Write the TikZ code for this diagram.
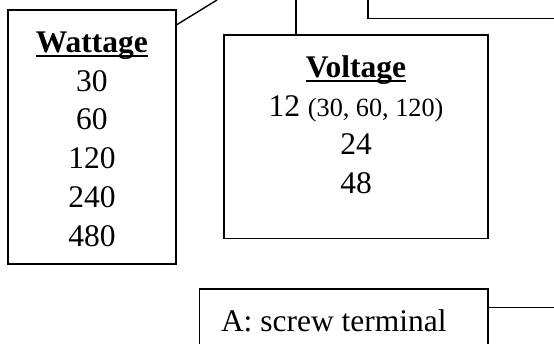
\documentclass[tikz,border=0pt]{standalone}
\usepackage{fontspec}
\setmainfont{Liberation Serif}
\usepackage{tikz}
\usetikzlibrary{positioning,calc}

\newsavebox{\headbox}
\newcommand{\ulhead}[1]{\sbox{\headbox}{\bfseries #1}\rlap{\rule[-4.5pt]{\wd\headbox}{2pt}}\usebox{\headbox}}
\newcommand{\sidenote}[1]{{\fontsize{26.25}{30}\selectfont #1}}

\begin{document}
\begin{tikzpicture}[
    x=1pt, y=-1pt,
    panel/.style={draw=black, line width=1.8pt, fill=white, inner sep=0pt},
    entry/.style={anchor=base, inner sep=0pt, font=\fontsize{31.5}{38.8}\selectfont},
    wire/.style={draw=black, line width=1.4pt}
]
\useasboundingbox (0,0) rectangle (554,343);

% Boxes
\node[panel, minimum width=168pt, minimum height=254pt] (watt) at (91.9,136.6) {};
\node[panel, minimum width=264.6pt, minimum height=203.5pt] (volt) at (356,136.8) {};
\node[panel, minimum width=288.7pt, minimum height=100pt] (screw) at (343.9,339) {};
\node[panel, minimum width=252pt, minimum height=80pt] (lamp) at (494,-21.5) {};

% Wattage column
\node[entry] (wh) at (watt.center |- 0,52.3) {\ulhead{Wattage}};
\foreach \w [count=\i] in {30,60,120,240,480}
    \node[entry] (w\i) at ($(wh.base)+(0,38.8*\i)$) {\w};

% Voltage column
\node[entry] (vh) at (volt.center |- 0,77.7) {\ulhead{Voltage}};
\node[entry] (v1) at ($(vh.base)+(0,38.5)$) {12 \sidenote{(30, 60, 120)}};
\node[entry] (v2) at ($(vh.base)+(0,77)$) {24};
\node[entry] (v3) at ($(vh.base)+(0,115.5)$) {48};

% Terminal label
\node[entry, anchor=base west] (st) at (220.8,331) {A: screw terminal};

% Connecting lines
\coordinate (wend) at (217,0);
\coordinate (vend) at (296,0);
\coordinate (send) at (554,307.3);
\draw[wire] ($(watt.north east)+(0,16)$) -- (wend);
\draw[wire] (volt.north -| vend) -- (vend);
\draw[wire] (screw.east |- send) -- (send);

\end{tikzpicture}
\end{document}
